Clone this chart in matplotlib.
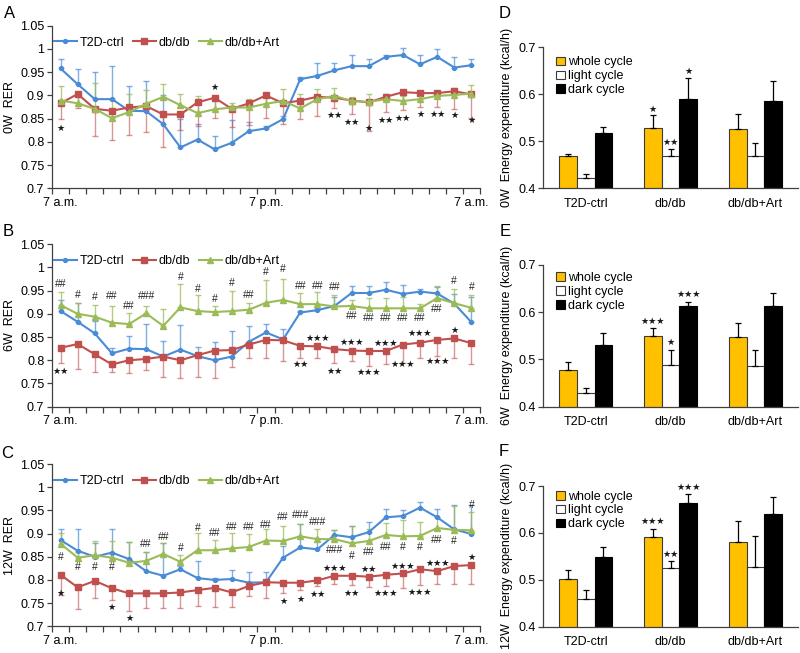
import matplotlib
matplotlib.use("Agg")
import matplotlib.pyplot as plt
import numpy as np

plt.rcParams['font.family'] = ['Liberation Sans', 'DejaVu Sans']

# ---------------- data ----------------
groups = ['T2D-ctrl', 'db/db', 'db/db+Art']
time_labels = ['7 a.m.', '7 p.m.', '7 a.m.']
time_label_idx = [0, 12, 24]
n_points = 25
week_labels = ['0W', '6W', '12W']
panel_letters_line = ['A', 'B', 'C']
panel_letters_bar = ['D', 'E', 'F']

# Panel A (0W RER)
A_ctrl = [0.958, 0.924, 0.892, 0.892, 0.867, 0.866, 0.838, 0.788, 0.805, 0.784, 0.798, 0.823, 0.829,
          0.849, 0.935, 0.942, 0.954, 0.963, 0.963, 0.983, 0.987, 0.967, 0.983, 0.960, 0.965]
A_ctrl_err = [0.020, 0.033, 0.058, 0.071, 0.054, 0.064, 0.062, 0.061, 0.033, 0.029, 0.049, 0.020, 0.006,
              0.006, 0.004, 0.028, 0.016, 0.024, 0.015, 0.005, 0.014, 0.021, 0.017, 0.022, 0.013]
A_db = [0.883, 0.903, 0.871, 0.867, 0.874, 0.877, 0.859, 0.859, 0.885, 0.895, 0.871, 0.883, 0.900,
        0.883, 0.889, 0.897, 0.895, 0.889, 0.885, 0.897, 0.907, 0.905, 0.905, 0.909, 0.902]
A_db_err = [0.034, 0.031, 0.058, 0.062, 0.059, 0.056, 0.071, 0.033, 0.051, 0.044, 0.038, 0.047, 0.049,
            0.045, 0.040, 0.041, 0.023, 0.030, 0.062, 0.032, 0.038, 0.031, 0.031, 0.038, 0.051]
A_art = [0.889, 0.883, 0.871, 0.851, 0.864, 0.882, 0.897, 0.879, 0.862, 0.870, 0.874, 0.874, 0.882,
         0.888, 0.872, 0.892, 0.899, 0.888, 0.886, 0.892, 0.888, 0.892, 0.899, 0.901, 0.904]
A_art_err = [0.032, 0.025, 0.056, 0.039, 0.038, 0.030, 0.027, 0.023, 0.037, 0.020, 0.010, 0.019, 0.020,
             0.026, 0.030, 0.022, 0.018, 0.009, 0.017, 0.010, 0.010, 0.008, 0.010, 0.015, 0.018]

# Panel B (6W RER)
B_ctrl = [0.906, 0.883, 0.858, 0.815, 0.825, 0.824, 0.808, 0.823, 0.809, 0.800, 0.808, 0.840, 0.860,
          0.845, 0.903, 0.908, 0.917, 0.945, 0.945, 0.952, 0.943, 0.948, 0.944, 0.922, 0.882]
B_ctrl_err = [0.023, 0.040, 0.026, 0.011, 0.028, 0.054, 0.033, 0.054, 0.020, 0.040, 0.056, 0.033, 0.018,
              0.023, 0.004, 0.004, 0.020, 0.015, 0.016, 0.016, 0.020, 0.006, 0.015, 0.021, 0.054]
B_db = [0.827, 0.835, 0.813, 0.791, 0.800, 0.803, 0.808, 0.800, 0.811, 0.821, 0.822, 0.834, 0.844,
        0.843, 0.831, 0.830, 0.824, 0.821, 0.820, 0.820, 0.834, 0.838, 0.844, 0.847, 0.837]
B_db_err = [0.032, 0.053, 0.038, 0.016, 0.027, 0.024, 0.045, 0.038, 0.048, 0.059, 0.037, 0.030, 0.040,
            0.044, 0.025, 0.024, 0.029, 0.022, 0.032, 0.028, 0.039, 0.033, 0.034, 0.041, 0.045]
B_art = [0.919, 0.900, 0.894, 0.881, 0.878, 0.901, 0.874, 0.914, 0.906, 0.904, 0.906, 0.909, 0.924,
         0.930, 0.921, 0.921, 0.916, 0.917, 0.912, 0.912, 0.912, 0.912, 0.934, 0.923, 0.913]
B_art_err = [0.029, 0.024, 0.025, 0.035, 0.024, 0.016, 0.036, 0.051, 0.034, 0.013, 0.043, 0.015, 0.048,
             0.046, 0.025, 0.026, 0.024, 0.012, 0.022, 0.022, 0.024, 0.010, 0.026, 0.030, 0.027]

# Panel C (12W RER)
C_ctrl = [0.886, 0.863, 0.850, 0.859, 0.845, 0.819, 0.809, 0.823, 0.804, 0.800, 0.802, 0.794, 0.795,
          0.848, 0.870, 0.866, 0.897, 0.892, 0.903, 0.935, 0.938, 0.956, 0.935, 0.909, 0.899]
C_ctrl_err = [0.023, 0.046, 0.029, 0.050, 0.036, 0.041, 0.071, 0.007, 0.037, 0.005, 0.020, 0.023, 0.023,
              0.026, 0.051, 0.024, 0.011, 0.025, 0.023, 0.018, 0.013, 0.013, 0.018, 0.053, 0.063]
C_db = [0.811, 0.784, 0.798, 0.782, 0.771, 0.771, 0.771, 0.773, 0.778, 0.783, 0.773, 0.787, 0.795,
        0.794, 0.794, 0.799, 0.809, 0.809, 0.807, 0.811, 0.814, 0.823, 0.819, 0.830, 0.832]
C_db_err = [0.043, 0.047, 0.036, 0.025, 0.038, 0.032, 0.032, 0.034, 0.034, 0.041, 0.031, 0.021, 0.035,
            0.023, 0.016, 0.013, 0.018, 0.020, 0.023, 0.025, 0.032, 0.034, 0.028, 0.039, 0.041]
C_art = [0.878, 0.848, 0.853, 0.848, 0.837, 0.841, 0.856, 0.839, 0.864, 0.864, 0.868, 0.871, 0.885,
         0.884, 0.894, 0.888, 0.888, 0.879, 0.884, 0.897, 0.894, 0.895, 0.912, 0.908, 0.907]
C_art_err = [0.024, 0.012, 0.031, 0.036, 0.044, 0.020, 0.023, 0.014, 0.037, 0.022, 0.033, 0.029, 0.024,
             0.033, 0.027, 0.022, 0.020, 0.038, 0.026, 0.025, 0.035, 0.029, 0.023, 0.052, 0.040]

# significance marks on line panels: (index, y, text)
A_marks = [(0, 0.829, '*'), (9, 0.917, '*'), (16, 0.856, '**'), (17, 0.841, '**'), (18, 0.829, '*'),
           (19, 0.847, '**'), (20, 0.851, '**'), (21, 0.859, '*'), (22, 0.860, '**'), (23, 0.856, '*'),
           (24, 0.846, '*')]
B_marks = [(0, 0.965, '##'), (1, 0.941, '#'), (2, 0.936, '#'), (3, 0.938, '##'), (4, 0.918, '##'),
           (5, 0.938, '###'), (7, 0.979, '#'), (8, 0.954, '#'), (9, 0.932, '#'), (10, 0.966, '#'),
           (11, 0.940, '##'), (12, 0.990, '#'), (13, 0.996, '#'), (14, 0.961, '##'), (15, 0.961, '##'),
           (16, 0.958, '##'), (17, 0.896, '##'), (18, 0.891, '##'), (19, 0.891, '##'), (20, 0.891, '##'),
           (21, 0.891, '##'), (22, 0.911, '##'), (23, 0.970, '#'), (24, 0.958, '#'),
           (0, 0.777, '**'), (14, 0.790, '**'), (15, 0.847, '***'), (16, 0.775, '**'), (17, 0.839, '***'),
           (18, 0.774, '***'), (19, 0.837, '***'), (20, 0.790, '***'), (21, 0.857, '***'),
           (22, 0.798, '***'), (23, 0.864, '*')]
C_marks = [(0, 0.850, '#'), (1, 0.827, '#'), (2, 0.827, '#'), (3, 0.827, '#'), (5, 0.877, '##'),
           (6, 0.892, '##'), (7, 0.868, '#'), (8, 0.913, '#'), (9, 0.901, '##'), (10, 0.915, '##'),
           (11, 0.915, '##'), (12, 0.919, '##'), (13, 0.935, '##'), (14, 0.940, '###'), (15, 0.926, '###'),
           (16, 0.865, '###'), (17, 0.852, '#'), (18, 0.861, '##'), (19, 0.872, '##'), (20, 0.871, '#'),
           (21, 0.871, '#'), (22, 0.886, '##'), (23, 0.885, '#'), (24, 0.962, '#'),
           (0, 0.771, '*'), (3, 0.740, '*'), (4, 0.716, '*'), (13, 0.753, '*'), (14, 0.757, '*'),
           (15, 0.769, '**'), (16, 0.825, '***'), (17, 0.771, '**'), (18, 0.823, '**'), (19, 0.771, '***'),
           (20, 0.830, '***'), (21, 0.773, '***'), (22, 0.836, '***'), (24, 0.848, '*')]

# Energy expenditure bars (kcal/h)
cycles = ['whole cycle', 'light cycle', 'dark cycle']
D_whole = [0.469, 0.528, 0.526]
D_whole_err = [0.005, 0.027, 0.033]
D_light = [0.421, 0.469, 0.469]
D_light_err = [0.009, 0.015, 0.028]
D_dark = [0.517, 0.589, 0.586]
D_dark_err = [0.013, 0.045, 0.042]
D_marks = [(1, 0, 0.568, '*'), (1, 1, 0.497, '**'), (1, 2, 0.648, '*')]

E_whole = [0.478, 0.550, 0.547]
E_whole_err = [0.016, 0.017, 0.031]
E_light = [0.430, 0.488, 0.487]
E_light_err = [0.009, 0.033, 0.034]
E_dark = [0.531, 0.614, 0.614]
E_dark_err = [0.024, 0.007, 0.026]
E_marks = [(1, 0, 0.581, '***'), (1, 1, 0.535, '*'), (1, 2, 0.638, '***')]

F_whole = [0.501, 0.592, 0.581]
F_whole_err = [0.020, 0.016, 0.044]
F_light = [0.458, 0.526, 0.528]
F_light_err = [0.020, 0.015, 0.065]
F_dark = [0.548, 0.663, 0.640]
F_dark_err = [0.023, 0.019, 0.037]
F_marks = [(1, 0, 0.624, '***'), (1, 1, 0.554, '**'), (1, 2, 0.697, '***')]

# ---------------- styling ----------------
c_ctrl = '#4A8BD6'
c_db = '#C0504D'
c_art = '#9BBB59'
c_whole = '#FFC000'
axis_col = '#404040'
star_size = 6.6

fig = plt.figure(figsize=(8, 6.53), dpi=100)

line_rects = [[0.065, 0.7116, 0.535, 0.2490],
              [0.065, 0.3772, 0.535, 0.2487],
              [0.065, 0.0409, 0.535, 0.2485]]
bar_rects = [[0.679, 0.7116, 0.3184, 0.2160],
             [0.679, 0.3772, 0.3184, 0.2170],
             [0.679, 0.0403, 0.3184, 0.2154]]
letter_line_pos = [(10, 13), (8, 231), (7, 453)]
letter_bar_pos = [(505, 13), (505, 232), (504, 452)]
legend_bar_y = [0.935, 0.95, 0.968]

line_data = [
    (A_ctrl, A_ctrl_err, A_db, A_db_err, A_art, A_art_err, A_marks),
    (B_ctrl, B_ctrl_err, B_db, B_db_err, B_art, B_art_err, B_marks),
    (C_ctrl, C_ctrl_err, C_db, C_db_err, C_art, C_art_err, C_marks),
]
bar_data = [
    (D_whole, D_whole_err, D_light, D_light_err, D_dark, D_dark_err, D_marks),
    (E_whole, E_whole_err, E_light, E_light_err, E_dark, E_dark_err, E_marks),
    (F_whole, F_whole_err, F_light, F_light_err, F_dark, F_dark_err, F_marks),
]


def style_axes(ax):
    for s in ['top', 'right']:
        ax.spines[s].set_visible(False)
    for s in ['left', 'bottom']:
        ax.spines[s].set_color(axis_col)
        ax.spines[s].set_linewidth(0.9)


x = np.arange(n_points)
zeros = np.zeros(n_points)

for k, (rect, dat) in enumerate(zip(line_rects, line_data)):
    ctrl, ctrl_e, db, db_e, art, art_e, marks = dat
    ax = fig.add_axes(rect)
    style_axes(ax)
    # error bars (one-sided)
    ax.errorbar(x, ctrl, yerr=[zeros, ctrl_e], fmt='none', ecolor=c_ctrl, alpha=0.7,
                elinewidth=1.0, capsize=2.2, capthick=1.0)
    ax.errorbar(x, db, yerr=[db_e, zeros], fmt='none', ecolor=c_db, alpha=0.6,
                elinewidth=1.0, capsize=2.2, capthick=1.0)
    ax.errorbar(x, art, yerr=[zeros, art_e], fmt='none', ecolor=c_art, alpha=0.75,
                elinewidth=1.0, capsize=2.2, capthick=1.0)
    ax.plot(x, ctrl, color=c_ctrl, lw=1.5, marker='o', ms=2.8, label=groups[0])
    ax.plot(x, db, color=c_db, lw=1.5, marker='s', ms=4, label=groups[1])
    ax.plot(x, art, color=c_art, lw=1.5, marker='^', ms=4.5, label=groups[2])

    for (i, yv, t) in marks:
        if '*' in t:
            ax.text(i, yv, '\u2605' * len(t), ha='center', va='center', fontsize=star_size,
                    family='DejaVu Sans', color='#1a1a1a')
        else:
            ax.text(i, yv, t, ha='center', va='center', fontsize=7.5, color='#222222')

    ax.set_xlim(-0.5, n_points - 0.5)
    ax.set_ylim(0.7, 1.05)
    ax.set_yticks(np.arange(0.7, 1.0501, 0.05))
    ax.set_yticklabels(['0.7', '0.75', '0.8', '0.85', '0.9', '0.95', '1', '1.05'])
    ax.set_xticks(time_label_idx)
    ax.set_xticklabels(time_labels)
    ax.set_xticks(np.arange(-0.5, n_points, 1.0), minor=True)
    ax.tick_params(axis='x', which='major', length=0, pad=6, labelsize=9)
    ax.tick_params(axis='x', which='minor', length=4, width=0.9, color=axis_col, direction='out')
    ax.tick_params(axis='y', length=3.5, width=0.9, color=axis_col, labelsize=9, pad=2)

    ax.legend(loc='center left', bbox_to_anchor=(0.005, 0.895), ncol=3, frameon=False,
              fontsize=9, handlelength=1.8, handletextpad=0.25, columnspacing=0.7,
              borderpad=0, borderaxespad=0)

    x0, y0, w, h = rect
    fig.text(0.013, y0 + h / 2, week_labels[k] + '  RER', rotation=90, ha='center', va='center',
             fontsize=9)
    lx, ly = letter_line_pos[k]
    fig.text(lx / 800, 1 - ly / 653, panel_letters_line[k], ha='center', va='center', fontsize=12)

bw = 0.21
bx = np.arange(len(groups))
for k, (rect, dat) in enumerate(zip(bar_rects, bar_data)):
    wh, wh_e, li, li_e, da, da_e, marks = dat
    ax = fig.add_axes(rect)
    style_axes(ax)
    ekw = dict(elinewidth=0.9, capthick=0.9, ecolor='black')
    ax.bar(bx - bw, wh, bw, color=c_whole, edgecolor='#3a3a3a', linewidth=0.8,
           yerr=[np.zeros(3), wh_e], capsize=2.5, error_kw=ekw, label=cycles[0])
    ax.bar(bx, li, bw, color='white', edgecolor='#3a3a3a', linewidth=0.8,
           yerr=[np.zeros(3), li_e], capsize=2.5, error_kw=ekw, label=cycles[1])
    ax.bar(bx + bw, da, bw, color='black', edgecolor='black', linewidth=0.8,
           yerr=[np.zeros(3), da_e], capsize=2.5, error_kw=ekw, label=cycles[2])
    for (g, j, yv, t) in marks:
        ax.text(bx[g] + (j - 1) * bw, yv, '\u2605' * len(t), ha='center', va='center',
                fontsize=star_size, family='DejaVu Sans', color='#1a1a1a')
    ax.set_xlim(-0.5, 2.5)
    ax.set_ylim(0.4, 0.7)
    ax.set_yticks([0.4, 0.5, 0.6, 0.7])
    ax.set_yticklabels(['0.4', '0.5', '0.6', '0.7'])
    ax.set_xticks(bx)
    ax.set_xticklabels(groups)
    ax.tick_params(axis='x', length=0, pad=7, labelsize=9)
    ax.tick_params(axis='y', length=3.5, width=0.9, color=axis_col, labelsize=9, pad=2)
    ax.legend(loc='upper left', bbox_to_anchor=(0.05, legend_bar_y[k]), frameon=False, fontsize=9,
              handlelength=0.7, handleheight=0.7, handletextpad=0.25, labelspacing=0.15,
              borderpad=0, borderaxespad=0)
    x0, y0, w, h = rect
    fig.text(507 / 800, y0 + h / 2, week_labels[k] + '  Energy expenditure (kcal/h)', rotation=90,
             ha='center', va='center', fontsize=9)
    lx, ly = letter_bar_pos[k]
    fig.text(lx / 800, 1 - ly / 653, panel_letters_bar[k], ha='center', va='center', fontsize=12)

fig.savefig('out.png', dpi=100)
